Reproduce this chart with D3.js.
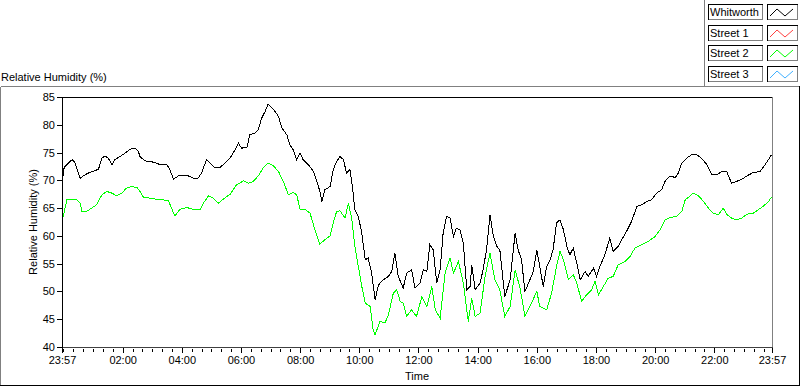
<!DOCTYPE html>
<html>
<head>
<meta charset="utf-8">
<script src="https://cdn.jsdelivr.net/npm/d3@7"></script>
<style>
body { margin: 0; background: #fff; }
svg { display: block; font-family: "Liberation Sans", Arial, sans-serif; font-size: 11px; }
</style>
</head>
<body>
<script>
// minutes after 23:57 and relative humidity (%)
var whitworthMin = [0,3,6,16,21,26,37,43,53,63,74,81,87,94,101,107,118,128,138,148,155,158,168,178,189,199,212,219,226,236,246,256,266,276,283,293,304,310,320,331,341,351,358,364,375,381,391,398,405,412,418,429,439,446,456,462,469,476,483,489,500,510,517,523,527,533,544,550,557,564,571,577,584,589,594,601,608,615,621,628,635,642,652,662,669,675,682,692,699,709,716,726,733,740,746,753,760,767,773,780,787,794,800,807,814,821,828,831,838,848,854,861,868,875,882,888,898,909,919,925,932,939,949,956,963,969,976,983,990,996,1003,1010,1017,1024,1030,1037,1044,1051,1061,1067,1078,1084,1091,1101,1111,1118,1128,1135,1145,1155,1166,1176,1186,1196,1206,1216,1223,1233,1244,1250,1257,1267,1277,1287,1297,1308,1318,1328,1338,1348,1358,1368,1379,1389,1402,1416,1426,1439];
var whitworthRH = [68.6,71.9,72.5,73.4,73.7,73.2,70.4,70.8,71.3,71.6,72.0,74.0,74.4,74.0,72.8,73.7,74.3,74.9,75.6,75.8,75.2,74.3,73.5,73.4,73.2,72.8,72.9,71.9,70.2,70.8,70.8,70.8,70.4,70.4,71.3,73.7,72.8,72.3,72.3,73.1,74.0,75.5,76.7,75.8,75.9,78.2,78.5,79.1,81.2,82.4,83.7,82.8,81.5,79.4,78.2,76.4,75.5,73.7,74.9,73.7,72.8,71.6,69.8,68.0,66.2,68.3,68.9,71.9,73.4,74.3,73.7,71.3,71.9,68.9,64.7,63.5,60.5,55.7,56.0,53.3,48.5,51.2,52.1,52.7,53.6,56.9,52.7,50.6,53.3,53.9,50.6,51.5,53.9,53.6,58.4,57.5,51.5,53.9,60.5,63.5,63.2,59.9,61.4,61.1,58.7,50.3,50.9,54.8,50.3,51.5,53.9,57.5,63.8,59.9,58.1,57.5,49.1,52.1,60.5,57.5,55.7,50.0,52.1,53.6,57.5,54.5,50.9,54.5,55.7,57.5,62.3,62.9,61.1,58.1,56.6,57.8,55.1,52.1,53.6,52.7,54.2,52.7,54.5,56.6,59.6,57.2,58.1,59.3,60.8,62.6,65.3,65.6,66.2,66.5,67.7,68.3,69.8,70.8,70.5,71.3,73.1,74.0,74.6,74.6,74.0,72.8,71.0,71.0,71.6,71.6,69.5,69.8,70.2,70.8,71.4,71.6,72.8,74.6];

var street2Min = [0,10,20,30,37,40,50,60,70,81,91,101,111,121,131,141,152,158,165,178,192,205,216,222,229,239,253,266,280,287,297,307,317,327,341,354,368,378,388,398,408,418,429,439,449,459,469,476,483,493,503,513,523,533,544,550,557,564,574,581,588,594,601,608,615,625,631,635,645,655,662,672,679,686,692,699,709,719,730,740,750,757,767,777,787,794,804,814,824,831,838,848,858,868,878,888,898,909,919,929,939,949,963,969,983,993,1003,1010,1017,1027,1037,1044,1054,1064,1074,1081,1088,1098,1108,1118,1128,1142,1152,1162,1176,1189,1203,1213,1223,1233,1247,1257,1264,1274,1280,1291,1301,1311,1321,1331,1341,1348,1358,1368,1379,1389,1402,1412,1422,1433,1439];
var street2RH = [62.5,66.5,66.5,66.5,65.9,64.4,64.4,65.0,65.6,67.4,68.0,67.7,67.2,67.7,68.6,68.9,68.7,68.0,67.0,66.8,66.6,66.5,66.3,65.0,63.6,64.8,65.1,64.8,64.7,65.9,67.2,66.8,65.9,66.6,67.5,69.2,69.9,69.5,69.8,70.8,72.2,73.1,72.6,71.6,69.8,67.4,67.8,67.4,64.7,64.8,64.1,61.1,58.5,59.3,60.0,62.3,64.4,64.5,63.2,65.9,62.9,58.1,54.5,50.9,47.9,47.3,43.1,42.2,44.6,44.3,45.8,49.7,50.3,48.2,47.9,45.5,46.7,45.5,49.1,47.3,50.9,46.7,45.2,53.3,56.0,53.3,55.4,51.5,44.6,48.8,45.5,46.1,52.7,56.9,52.1,50.3,45.5,47.3,53.9,50.6,45.5,47.3,50.0,47.3,46.7,49.7,54.5,57.2,55.7,52.1,53.0,51.5,48.2,49.4,50.3,51.8,49.4,50.9,52.4,52.7,54.8,55.4,56.3,57.8,58.4,59.0,59.9,61.1,62.9,63.3,63.5,64.4,66.5,67.2,67.7,67.2,66.2,65.0,64.1,63.8,65.0,63.9,63.2,62.9,63.2,63.9,64.1,64.7,65.3,66.2,67.0];

var legendNames = ["Whitworth", "Street 1", "Street 2", "Street 3"];
var legendColors = ["#000000", "#ff4040", "#00ff00", "#40b0ff"];
var yTicks = [40, 45, 50, 55, 60, 65, 70, 75, 80, 85];

var W = 800, H = 386;
var plot = {left: 62, right: 772, top: 97, bottom: 347};

var t0 = new Date(2000, 0, 1, 23, 57);
var t1 = d3.timeMinute.offset(t0, 1440);
function toDate(m) { return d3.timeMinute.offset(t0, m); }

var xScale = d3.scaleTime().domain([t0, t1]).range([plot.left, plot.right]);
var yScale = d3.scaleLinear().domain([40, 85]).range([plot.bottom, plot.top]);

var svg = d3.select("body").append("svg")
  .attr("width", W)
  .attr("height", H);

svg.append("rect").attr("width", W).attr("height", H).attr("fill", "#fff");

// outer frame
var frame = svg.append("g").attr("shape-rendering", "crispEdges");
frame.append("line").attr("x1", 0.5).attr("y1", 86.5).attr("x2", 704).attr("y2", 86.5).attr("stroke", "#808080");
frame.append("line").attr("x1", 0.5).attr("y1", 86.5).attr("x2", 0.5).attr("y2", 385).attr("stroke", "#808080");
frame.append("line").attr("x1", 0).attr("y1", 385.5).attr("x2", 800).attr("y2", 385.5).attr("stroke", "#000");
frame.append("line").attr("x1", 799.5).attr("y1", 86).attr("x2", 799.5).attr("y2", 386).attr("stroke", "#000");

// legend panel border
frame.append("line").attr("x1", 704.5).attr("y1", 0).attr("x2", 704.5).attr("y2", 86.5).attr("stroke", "#808080");
frame.append("line").attr("x1", 704.5).attr("y1", 86.5).attr("x2", 799).attr("y2", 86.5).attr("stroke", "#808080");

// chart title
svg.append("text")
  .attr("x", 1)
  .attr("y", 81)
  .text("Relative Humidity (%)");

// plot area
var plotG = svg.append("g");
plotG.append("rect")
  .attr("x", plot.left).attr("y", plot.top)
  .attr("width", plot.right - plot.left).attr("height", plot.bottom - plot.top)
  .attr("fill", "#fff");

var lineGen = d3.line()
  .x(function(d) { return xScale(toDate(d[0])); })
  .y(function(d) { return yScale(d[1]); });

var series = [
  {min: street2Min, rh: street2RH, color: legendColors[2]},
  {min: whitworthMin, rh: whitworthRH, color: legendColors[0]}
];

series.forEach(function(s) {
  var pts = s.min.map(function(m, i) { return [m, s.rh[i]]; });
  plotG.append("path")
    .attr("d", lineGen(pts))
    .attr("fill", "none")
    .attr("stroke", s.color)
    .attr("stroke-width", 1)
    .attr("shape-rendering", "crispEdges");
});

// plot border
var border = svg.append("g").attr("shape-rendering", "crispEdges");
border.append("line").attr("x1", plot.left).attr("y1", plot.top + 0.5).attr("x2", plot.right).attr("y2", plot.top + 0.5).attr("stroke", "#000");
border.append("line").attr("x1", plot.right + 0.5).attr("y1", plot.top).attr("x2", plot.right + 0.5).attr("y2", plot.bottom + 1).attr("stroke", "#808080");
border.append("line").attr("x1", plot.left).attr("y1", plot.bottom + 0.5).attr("x2", plot.right + 1).attr("y2", plot.bottom + 0.5).attr("stroke", "#404040");
border.append("line").attr("x1", plot.left + 0.5).attr("y1", plot.top).attr("x2", plot.left + 0.5).attr("y2", plot.bottom + 1).attr("stroke", "#000");

// y axis
var yAxis = d3.axisLeft(yScale).tickValues(yTicks).tickSize(5).tickPadding(2);
var yAxisG = svg.append("g")
  .attr("transform", "translate(" + plot.left + ",0)")
  .call(yAxis);
yAxisG.select(".domain").remove();
yAxisG.selectAll("text").attr("font-family", "Liberation Sans, Arial, sans-serif").attr("font-size", 11).attr("fill", "#000");
yAxisG.selectAll("line").attr("shape-rendering", "crispEdges");

// x axis: major ticks every two hours plus both ends, minor every 20 minutes
var majorTicks = [t0].concat(d3.timeHour.every(2).range(d3.timeMinute.offset(t0, 10), t1)).concat([t1]);
var minorTicks = d3.timeMinute.every(20).range(d3.timeMinute.offset(t0, 1), t1);
var fmt = d3.timeFormat("%H:%M");

var xMinor = d3.axisBottom(xScale).tickValues(minorTicks).tickSize(3).tickFormat("");
var xMinorG = svg.append("g")
  .attr("transform", "translate(0," + (plot.bottom + 2) + ")")
  .call(xMinor);
xMinorG.select(".domain").remove();
xMinorG.selectAll("line").attr("shape-rendering", "crispEdges");

var xAxis = d3.axisBottom(xScale).tickValues(majorTicks).tickSize(5).tickPadding(3).tickFormat(fmt);
var xAxisG = svg.append("g")
  .attr("transform", "translate(0," + (plot.bottom + 1) + ")")
  .call(xAxis);
xAxisG.select(".domain").remove();
xAxisG.selectAll("text").attr("font-family", "Liberation Sans, Arial, sans-serif").attr("font-size", 11).attr("fill", "#000");
xAxisG.selectAll("line").attr("shape-rendering", "crispEdges");

// axis titles
svg.append("text")
  .attr("x", (plot.left + plot.right) / 2)
  .attr("y", 380)
  .attr("text-anchor", "middle")
  .text("Time");

svg.append("text")
  .attr("transform", "translate(37," + ((plot.top + plot.bottom) / 2) + ") rotate(-90)")
  .attr("text-anchor", "middle")
  .text("Relative Humidity (%)");

// legend
var legend = svg.append("g");
legendNames.forEach(function(name, i) {
  var y0 = 4 + i * 20.7;
  var row = legend.append("g").attr("transform", "translate(0," + Math.round(y0) + ")");
  var boxes = row.append("g").attr("shape-rendering", "crispEdges");
  [[708, 54], [767, 30]].forEach(function(b) {
    boxes.append("rect").attr("x", b[0] + 0.5).attr("y", 0.5).attr("width", b[1]).attr("height", 15)
      .attr("fill", "#fff").attr("stroke", "#000");
    boxes.append("line").attr("x1", b[0] + 1).attr("y1", 15.5).attr("x2", b[0] + b[1] + 1).attr("y2", 15.5).attr("stroke", "#808080");
    boxes.append("line").attr("x1", b[0] + b[1] + 0.5).attr("y1", 1).attr("x2", b[0] + b[1] + 0.5).attr("y2", 16).attr("stroke", "#808080");
  });
  row.append("text").attr("x", 710).attr("y", 12).text(name);
  row.append("path")
    .attr("d", "M770,12 L777,5 L785,12 L793,5")
    .attr("fill", "none")
    .attr("stroke", legendColors[i])
    .attr("stroke-width", 1);
});
</script>
</body>
</html>
